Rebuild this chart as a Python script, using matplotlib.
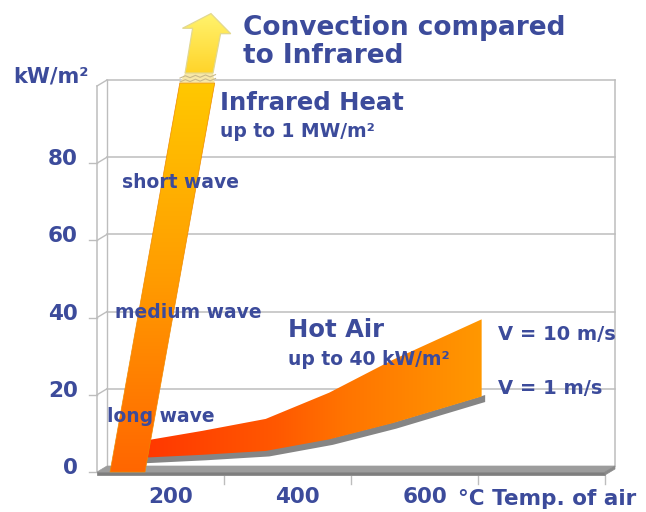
import numpy as np
import matplotlib
matplotlib.use("Agg")
import matplotlib.pyplot as plt
from matplotlib.patches import Polygon
from matplotlib.colors import LinearSegmentedColormap

# ---------------- data ----------------
y_ticks = [0, 20, 40, 60, 80]
x_tick_values = [200, 400, 600]
x_tick_labels = ["200", "400", "600"]
x_tick_marks = [300, 500, 700, 900]

ir_flux = [0, 100]          # kW/m2 along the infrared band
ir_temp = [134, 243]        # centre of the band (deg C)
ir_halfwidth = 27.5

air_temp = [150, 250, 350, 450, 550, 690]
air_v10 = [6.3, 9.1, 12.2, 19.0, 27.5, 38.0]   # V = 10 m/s
air_v1 = [2.1, 2.9, 3.9, 6.9, 11.1, 18.0]      # V = 1 m/s

BLUE = "#3C4B9B"
GRID = "#BDBDBD"
W, H = 646, 512

fig = plt.figure(figsize=(W / 100, H / 100), dpi=100)
fig.patch.set_facecolor("white")
ax = fig.add_axes([107 / W, 1 - 466 / H, 508 / W, 386 / H])
for s in ax.spines.values():
    s.set_visible(False)
ax.set_facecolor("white")

# pixel -> data scale for the pseudo 3D depth offset
xpp = 800 / 508.0
ypp = 100 / 386.0
ddx = -10 * xpp
ddy = -6 * ypp
x0, x1 = 100, 900


def gradient_fill(poly_pts, cmap, extent, vertical, zorder):
    """Fill a polygon (data coords) with a linear gradient."""
    patch = Polygon(poly_pts, closed=True, facecolor="none", edgecolor="none",
                    transform=ax.transData)
    if vertical:
        grad = np.linspace(0, 1, 256).reshape(-1, 1)
    else:
        grad = np.linspace(0, 1, 256).reshape(1, -1)
    im = ax.imshow(grad, extent=extent, origin="lower", aspect="auto", cmap=cmap,
                   interpolation="bilinear", zorder=zorder)
    im.set_clip_box(fig.bbox)
    im.set_clip_path(patch)
    return im


# ---------- walls, grid ----------
for v in [20, 40, 60, 80, 100]:
    ax.plot([x0, x1], [v, v], color=GRID, lw=1.1, zorder=1, clip_on=False)
    ax.plot([x0, x0 + ddx], [v, v + ddy], color=GRID, lw=1.0, zorder=1, clip_on=False)
for v in y_ticks:
    ax.plot([x0 + ddx, x0 + ddx - 8 * xpp], [v + ddy, v + ddy], color=GRID, lw=1.0,
            zorder=1, clip_on=False)
ax.plot([x0, x0], [0, 100], color=GRID, lw=1.0, zorder=1, clip_on=False)
ax.plot([x0 + ddx, x0 + ddx], [ddy, 100 + ddy], color=GRID, lw=1.1, zorder=1, clip_on=False)
ax.plot([x1, x1], [0, 100], color=GRID, lw=1.1, zorder=1, clip_on=False)

# floor slab
th = 3 * ypp
floor_top = Polygon([(x0, 0), (x1, 0), (x1 + ddx, ddy), (x0 + ddx, ddy)], closed=True,
                    facecolor="#9C9C9C", edgecolor="#9C9C9C", lw=0.5, zorder=2, clip_on=False)
floor_front = Polygon([(x0 + ddx, ddy), (x1 + ddx, ddy), (x1 + ddx, ddy - th), (x0 + ddx, ddy - th)],
                      closed=True, facecolor="#7E7E7E", edgecolor="#7E7E7E", lw=0.5, zorder=2,
                      clip_on=False)
floor_side = Polygon([(x1, 0), (x1, -th), (x1 + ddx, ddy - th), (x1 + ddx, ddy)], closed=True,
                     facecolor="#8A8A8A", edgecolor="#8A8A8A", lw=0.5, zorder=2, clip_on=False)
for p in (floor_top, floor_front, floor_side):
    ax.add_patch(p)
for xm in x_tick_marks:
    ax.plot([xm + ddx, xm + ddx], [ddy - th - 1 * ypp, ddy - th - 9 * ypp], color=GRID, lw=1.0,
            zorder=1, clip_on=False)

# ---------- hot air ribbon ----------
cmap_air = LinearSegmentedColormap.from_list(
    "air", [(0, "#FF3600"), (0.4, "#FF5800"), (0.6, "#FF7400"), (1.0, "#FF9800")])
# depth shadow of ribbon bottom (sits right under the ribbon)
ax.fill_between(np.array(air_temp) + 3 * xpp, np.array(air_v1) - 5.0 * ypp,
                np.array(air_v1) + 2.0 * ypp, color="#858585", zorder=3, lw=0)
ribbon_pts = list(zip(air_temp, air_v1)) + list(zip(air_temp[::-1], air_v10[::-1]))
gradient_fill(ribbon_pts, cmap_air, [air_temp[0], air_temp[-1], 0, max(air_v10)],
              vertical=False, zorder=4)

# ---------- infrared band + arrow ----------
cmap_ir = LinearSegmentedColormap.from_list(
    "ir", [(0, "#FF6600"), (0.5, "#FF9C00"), (1.0, "#FFC800")])
cmap_arrow = LinearSegmentedColormap.from_list("arr", [(0, "#FFD42A"), (1.0, "#FFF36E")])


def ir_center(v):
    return ir_temp[0] + (ir_temp[1] - ir_temp[0]) * (v - ir_flux[0]) / (ir_flux[1] - ir_flux[0])


v_bot, v_top = ddy, 99.2
cb, ct_ = ir_center(v_bot), ir_center(v_top)
bar_pts = [(cb - ir_halfwidth, v_bot), (cb + ir_halfwidth, v_bot),
           (ct_ + ir_halfwidth, v_top), (ct_ - ir_halfwidth, v_top)]
gradient_fill(bar_pts, cmap_ir, [cb - ir_halfwidth, ct_ + ir_halfwidth, v_bot, v_top],
              vertical=True, zorder=5)
ax.add_patch(Polygon(bar_pts, closed=True, facecolor="none", edgecolor="#EE8A00", lw=0.5,
                     zorder=5.5, clip_on=False))

# break between the bar and the arrow
vb0, vb1 = v_top, 101.8
cb0, cb1 = ir_center(vb0), ir_center(vb1)
ax.add_patch(Polygon([(cb0 - ir_halfwidth, vb0), (cb0 + ir_halfwidth, vb0),
                      (cb1 + 22, vb1), (cb1 - 22, vb1)], closed=True,
                     facecolor="#F7E7A8", edgecolor="none", zorder=5, clip_on=False))
zz_v = np.array([0.3, 0.9, 0.4, 1.0, 0.5, 1.1, 0.6, 1.2]) + vb0
zz_x = np.linspace(-ir_halfwidth, ir_halfwidth, len(zz_v)) + ir_center(zz_v)
ax.plot(zz_x, zz_v, color="#C8B98A", lw=0.8, zorder=6, clip_on=False)
ax.plot(zz_x, zz_v + 1.0, color="#C8B98A", lw=0.8, zorder=6, clip_on=False)

# arrow
shaft_hw, head_hw = 22, 38
v_s0, v_hl, v_hr, v_tip = vb1, 113.4, 112.0, 117.2
cs, ch, ctip = ir_center(v_s0), ir_center(112.7), ir_center(v_tip) + 2
arrow_pts = [(cs - shaft_hw, v_s0), (cs + shaft_hw, v_s0), (ch + shaft_hw, v_hr),
             (ch + head_hw, v_hr), (ctip, v_tip), (ch - head_hw, v_hl), (ch - shaft_hw, v_hl)]
gradient_fill(arrow_pts, cmap_arrow, [ch - head_hw, ch + head_hw, v_s0, v_tip],
              vertical=True, zorder=5)
ax.add_patch(Polygon(arrow_pts, closed=True, facecolor="none", edgecolor="#E2D890", lw=0.9,
                     zorder=6, clip_on=False))

ax.set_xlim(100, 900)
ax.set_ylim(0, 100)

# ---------- ticks ----------
ax.set_yticks(y_ticks)
ax.set_yticklabels([str(v) for v in y_ticks])
ax.set_xticks(x_tick_values)
ax.set_xticklabels(x_tick_labels)
ax.tick_params(axis="y", length=0, pad=21, labelsize=15.5, labelcolor=BLUE)
ax.tick_params(axis="x", length=0, pad=15, labelsize=15.5, labelcolor=BLUE)
for lab in ax.get_xticklabels() + ax.get_yticklabels():
    lab.set_fontweight("bold")


# ---------- texts ----------
def ftxt(x, y, s, size, va="baseline"):
    fig.text(x / W, 1 - y / H, s, fontsize=size, fontweight="bold", color=BLUE,
             ha="left", va=va, zorder=10)


ftxt(243, 35, "Convection compared", 19)
ftxt(243, 63, "to Infrared", 19)
ftxt(13, 77, "kW/m²", 15, va="center")
ftxt(220, 110, "Infrared Heat", 17.5)
ftxt(220, 137, "up to 1 MW/m²", 13.5)
ftxt(288, 337, "Hot Air", 17.5)
ftxt(288, 365, "up to 40 kW/m²", 13.5)
ftxt(122, 182, "short wave", 13.5, va="center")
ftxt(115, 313, "medium wave", 13.5, va="center")
ftxt(107, 416, "long wave", 13.5, va="center")
ftxt(498, 335, "V = 10 m/s", 14, va="center")
ftxt(498, 388, "V = 1 m/s", 14, va="center")
ftxt(458, 499, "°C Temp. of air", 15.5, va="center")

fig.savefig("out.png", dpi=100, facecolor="white")
